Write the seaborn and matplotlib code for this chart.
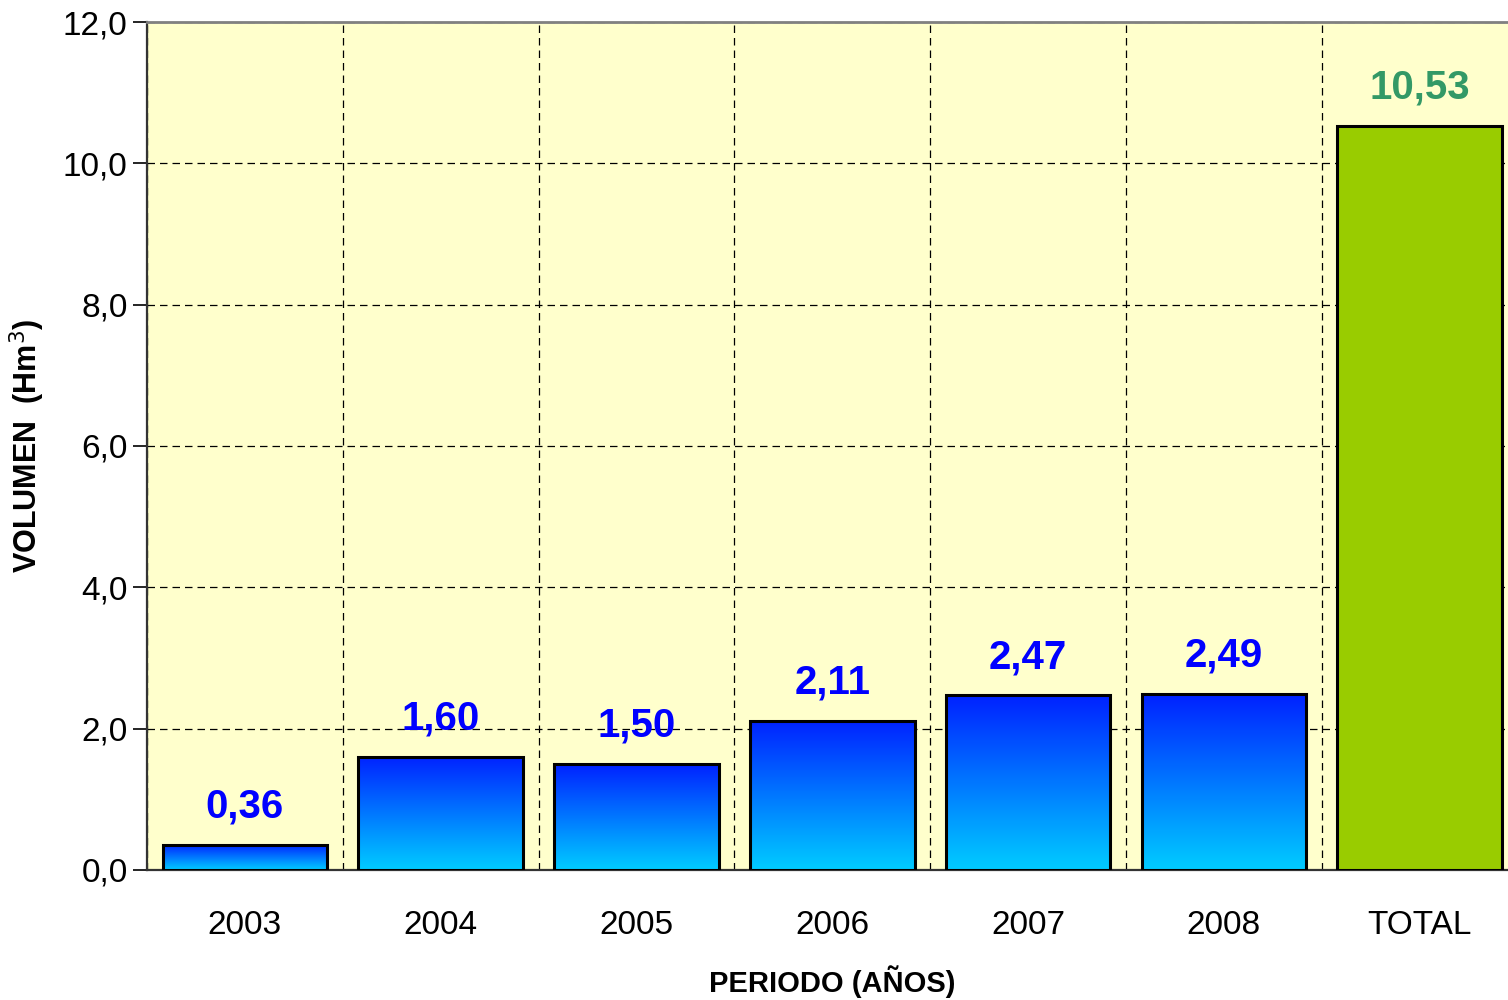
import numpy as np
import pandas as pd
import matplotlib
matplotlib.use("Agg")
import matplotlib.pyplot as plt
import seaborn as sns

periodos = ["2003", "2004", "2005", "2006", "2007", "2008", "TOTAL"]
volumen = [0.36, 1.60, 1.50, 2.11, 2.47, 2.49, 10.53]
etiquetas = ["0,36", "1,60", "1,50", "2,11", "2,47", "2,49", "10,53"]

df = pd.DataFrame({"periodo": periodos, "volumen": volumen})

sns.set_style("white")
plt.rcParams["font.family"] = ["Liberation Sans", "DejaVu Sans"]
plt.rcParams["text.color"] = "black"
plt.rcParams["xtick.color"] = "black"
plt.rcParams["ytick.color"] = "black"
plt.rcParams["axes.labelcolor"] = "black"

fig = plt.figure(figsize=(15.08, 10), dpi=100)
ax = fig.add_axes([147 / 1508, 0.130, 1370.6 / 1508, 0.848])
ax.set_facecolor("#ffffcc")

sns.barplot(data=df, x="periodo", y="volumen", ax=ax, width=0.84, saturation=1,
            color="#99cc00", edgecolor="black", linewidth=2.2, zorder=3)

# gradient fill for the yearly bars
grad = matplotlib.colors.LinearSegmentedColormap.from_list("g", ["#00ccff", "#0022ff"])
img = np.linspace(0, 1, 256).reshape(-1, 1)
for p in ax.patches[:-1]:
    x0, y0 = p.get_x(), p.get_y()
    w, h = p.get_width(), p.get_height()
    im = ax.imshow(img, cmap=grad, aspect="auto", origin="lower",
                   extent=[x0, x0 + w, y0, y0 + h], zorder=3.5)
    im.set_clip_path(p)
    p.set_zorder(4)
    p.set_facecolor("none")

ax.set_xlim(-0.5, 6.5)
ax.set_ylim(0, 12)
ax.set_yticks(np.arange(0, 12.1, 2))
ax.set_yticklabels([f"{v:.1f}".replace(".", ",") for v in np.arange(0, 12.1, 2)])

ax.set_xticks(np.arange(7))
ax.set_xticklabels(periodos)
ax.set_xticks(np.arange(-0.5, 6.6, 1), minor=True)
ax.tick_params(axis="x", which="major", length=0, labelsize=24, pad=29)
ax.tick_params(axis="x", which="minor", length=10, width=1.2, color="black", direction="out")
ax.tick_params(axis="y", length=10, width=1.2, labelsize=24, pad=4, direction="out", left=True)

ax.grid(True, axis="y", which="major", linestyle=(0, (6, 4)), color="black", linewidth=0.9, zorder=0)
ax.grid(True, axis="x", which="minor", linestyle=(0, (6, 4)), color="black", linewidth=0.9, zorder=0)
ax.grid(False, axis="x", which="major")
ax.set_axisbelow(True)

for s in ["left", "bottom"]:
    ax.spines[s].set_color("#333333")
    ax.spines[s].set_linewidth(1.6)
ax.spines["top"].set_color("#808080")
ax.spines["top"].set_linewidth(2)
ax.spines["right"].set_visible(False)

for i, (v, t) in enumerate(zip(volumen, etiquetas)):
    col = "#339966" if i == len(volumen) - 1 else "#0000ff"
    ax.text(i, v + 0.27, t, ha="center", va="bottom", fontsize=29,
            fontweight="bold", color=col, zorder=5)

ax.set_xlabel("PERIODO (AÑOS)", fontsize=21, fontweight="bold")
ax.xaxis.set_label_coords(685 / 1370.6, -95 / 848)
ax.set_ylabel("VOLUMEN  (Hm$^3$)", fontsize=22, fontweight="bold")
ax.yaxis.set_label_coords(-100 / 1370.6, 0.5)

fig.savefig("out.png", dpi=100)
